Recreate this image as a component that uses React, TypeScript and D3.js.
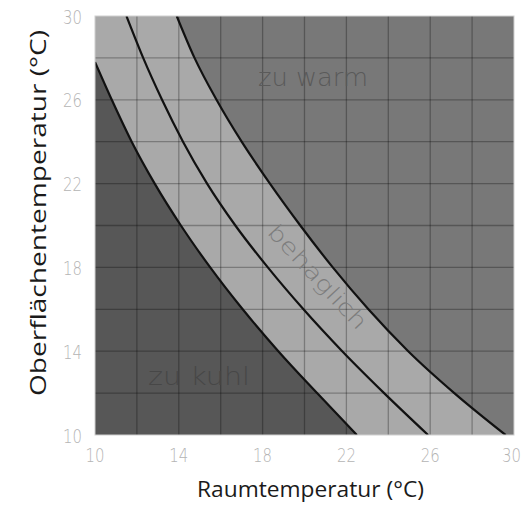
import React from "react";
import * as d3 from "d3";

// Raumtemperatur (x) vs Oberflächentemperatur (y)
const xTicks = [10, 14, 18, 22, 26, 30];
const yTicks = [10, 14, 18, 22, 26, 30];
const gridValues = [12, 14, 16, 18, 20, 22, 24, 26, 28];

// boundary curves: surface temperature (y) -> room temperature (x)
const lowerY = [27.8, 26, 24, 22, 20, 18, 16, 14, 12, 10];
const lowerX = [10, 10.8, 11.75, 12.85, 14.1, 15.5, 17.05, 18.75, 20.6, 22.5];
const middleY = [30, 28, 26, 24, 22, 20, 18, 16, 14, 12, 10];
const middleX = [11.5, 12.3, 13.2, 14.2, 15.35, 16.7, 18.25, 19.95, 21.8, 23.8, 25.9];
const upperY = [30, 28, 26, 24, 22, 20, 18, 16, 14, 12, 10];
const upperX = [13.9, 14.75, 15.8, 17.0, 18.35, 19.8, 21.35, 23.05, 24.95, 27.15, 29.6];

const regionLabels = ["zu warm", "behaglich", "zu kuhl"];

const W = 527, H = 505;
const left = 95, top = 16, right = 514, bottom = 435;

export default function App() {
  const x = d3.scaleLinear().domain([10, 30]).range([left, right]);
  const y = d3.scaleLinear().domain([10, 30]).range([bottom, top]);
  const pts = (xs: number[], ys: number[]) => xs.map((v, i) => [v, ys[i]] as [number, number]);
  const line = d3.line<[number, number]>().x(d => x(d[0])).y(d => y(d[1])).curve(d3.curveMonotoneX);
  const lower = pts(lowerX, lowerY);
  const middle = pts(middleX, middleY);
  const upper = pts(upperX, upperY);
  const coldArea = line(lower) + `L${x(10)},${y(10)}Z`;
  const warmArea = line(upper) + `L${x(30)},${y(10)}L${x(30)},${y(30)}Z`;
  const techFont = "'DejaVu Sans', sans-serif";
  const labelFont = "'Open Sans', 'Liberation Sans', Arial, sans-serif";

  return (
    <svg width={W} height={H} style={{ position: "absolute", left: 0, top: 0 }}>
      <defs>
        <clipPath id="plot"><rect x={left} y={top} width={right - left} height={bottom - top} /></clipPath>
      </defs>
      <rect width={W} height={H} fill="#ffffff" />
      <g clipPath="url(#plot)">
        <rect x={left} y={top} width={right - left} height={bottom - top} fill="#a9a9a9" />
        <path d={coldArea} fill="#575757" />
        <path d={warmArea} fill="#787878" />
        {gridValues.map(v => (
          <g key={v}>
            <line x1={x(v)} x2={x(v)} y1={top} y2={bottom} stroke="#000" strokeOpacity={0.28} strokeWidth={1.3} />
            <line x1={left} x2={right} y1={y(v)} y2={y(v)} stroke="#000" strokeOpacity={0.28} strokeWidth={1.3} />
          </g>
        ))}
        {[lower, middle, upper].map((p, i) => (
          <path key={i} d={line(p) || ""} fill="none" stroke="#111" strokeWidth={2.2} />
        ))}
        <text x={258} y={86} fill="#5a5a5a" fontFamily={techFont} fontWeight={300} fontSize={24} textLength={110} lengthAdjust="spacingAndGlyphs">{regionLabels[0]}</text>
        <text x={0} y={0} transform={`translate(312,282) rotate(47)`} fill="#7c7c7c" fontFamily={techFont} fontWeight={300} fontSize={22} textAnchor="middle" textLength={134} lengthAdjust="spacingAndGlyphs">{regionLabels[1]}</text>
        <text x={148} y={385} fill="#474747" fontFamily={techFont} fontWeight={300} fontSize={24} textLength={102} lengthAdjust="spacingAndGlyphs">{regionLabels[2]}</text>
      </g>
      <rect x={left} y={top} width={right - left} height={bottom - top} fill="none" stroke="#d0d0d0" strokeWidth={1} />
      {xTicks.map(t => (
        <text key={"x" + t} x={Math.min(x(t) - 9.5, 502)} y={462} fill="#b4b4b4" fontFamily={techFont} fontWeight={200} fontSize={20} textLength={19} lengthAdjust="spacingAndGlyphs">{t}</text>
      ))}
      {yTicks.map(t => (
        <text key={"y" + t} x={63} y={y(t) + 7.5} fill="#b4b4b4" fontFamily={techFont} fontWeight={200} fontSize={20} textLength={19} lengthAdjust="spacingAndGlyphs">{t}</text>
      ))}
      <text x={197} y={497} fill="#1a1a1a" fontFamily={labelFont} fontSize={21} textLength={227} lengthAdjust="spacingAndGlyphs">Raumtemperatur (°C)</text>
      <text transform={`translate(46,396) rotate(-90)`} fill="#1a1a1a" fontFamily={labelFont} fontSize={22} textLength={366} lengthAdjust="spacingAndGlyphs">Oberflächentemperatur (°C)</text>
    </svg>
  );
}
